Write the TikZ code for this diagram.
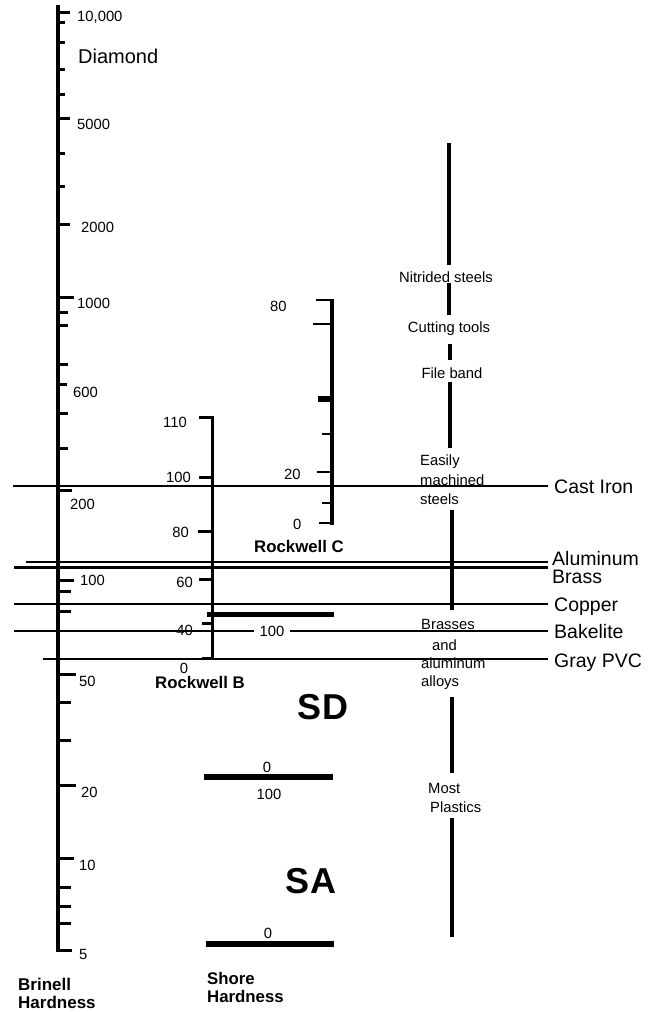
\documentclass[tikz,border=0pt]{standalone}
\usepackage{fontspec}
\setmainfont{Liberation Sans}
\begin{document}
\begin{tikzpicture}[x=1pt,y=-1pt,
  num/.style={font=\fontsize{14.8}{17}\selectfont, inner sep=0pt},
  matlbl/.style={font=\fontsize{19.5}{22}\selectfont, inner sep=0pt, anchor=base west},
  smtxt/.style={font=\fontsize{14.8}{17}\selectfont, inner sep=0pt, anchor=base west},
  boldlbl/.style={font=\bfseries\fontsize{16.8}{19}\selectfont, inner sep=0pt, anchor=base west},
  biglbl/.style={font=\bfseries\fontsize{36}{40}\selectfont, inner sep=0pt},
  baxis/.style={line width=4.5pt},
  btick/.style={line width=3pt},
  matline/.style={line width=2.5pt},
  rbline/.style={line width=3pt},
  rcaxis/.style={line width=4pt},
  rctick/.style={line width=2.7pt},
  colline/.style={line width=3.2pt},
  shorebar/.style={line width=6pt}]
\useasboundingbox (0,0) rectangle (653,1012);

% ---------------- Brinell scale ----------------
\coordinate (btop) at (58,5);
\coordinate (bbot) at (58,951.5);
\draw[baxis] (btop) -- (bbot);
\foreach \yy/\xx in {12/70,22/65,42/65,69/65,94/65,118/70,153/65,186/65,224/70,
                     297/74,312/68,325/68,364/68,384/67,413/68,448/68,490/72,
                     580/74,591/71,611/71,674/76,702/71,740/71,
                     785/76,858/74,887/71,906/71,923/71,950/72}
  \draw[btick] (56,\yy) -- (\xx,\yy);

\node[num,anchor=west] (b10000) at (77,17) {10,000};
\node[font=\fontsize{20}{22}\selectfont,inner sep=0pt,anchor=base west] (diam) at (78,63) {Diamond};
\node[num,anchor=west] (b5000) at (77,124) {5000};
\node[num,anchor=west] (b2000) at (81,227) {2000};
\node[num,anchor=west] (b1000) at (77,303) {1000};
\node[num,anchor=west] (b600) at (73,392) {600};
\node[num,anchor=west] (b200) at (70,504) {200};
\node[num,anchor=west] (b100) at (80,580) {100};
\node[num,anchor=west] (b50) at (79,681) {50};
\node[num,anchor=west] (b20) at (81,792) {20};
\node[num,anchor=west] (b10) at (79,865) {10};
\node[num,anchor=west] (b5) at (79,954) {5};
\node[boldlbl,font=\bfseries\fontsize{17}{19}\selectfont] (brinell) at (18,990) {Brinell};
\node[boldlbl,font=\bfseries\fontsize{17}{19}\selectfont] (brhard) at (18,1008) {Hardness};

% ---------------- Rockwell C ----------------
\draw[rcaxis] (332,298.5) -- (332,524.5);
\foreach \yy/\xx in {300/316,324/313,434/322,472/317,503/322,523/319}
  \draw[rctick] (\xx,\yy) -- (333,\yy);
\draw[line width=5.5pt] (318,399) -- (333,399);
\node[num,anchor=west] (rc80) at (270,306) {80};
\node[num,anchor=west] (rc20) at (284,474) {20};
\node[num,anchor=west] (rc0) at (293,524) {0};
\node[boldlbl] (rockc) at (254,552) {Rockwell C};

% ---------------- Rockwell B ----------------
\draw[rbline] (199,417.5) -- (212,417.5) -- (212,658) -- (202,658);
\foreach \yy/\xx in {477/199,531/198,579/199,623/202}
  \draw[rbline] (\xx,\yy) -- (212,\yy);
\draw[line width=5.5pt] (207,614.5) -- (334,614.5);
\node[num,anchor=east] (rb110) at (187,422) {110};
\node[num,anchor=east] (rb100) at (191,477) {100};
\node[num,anchor=east] (rb80) at (189,532) {80};
\node[num,anchor=east] (rb60) at (193,582) {60};
\node[num,anchor=east] (rb40) at (193,630) {40};
\node[num] (rb0) at (184,668) {0};
\node[boldlbl] (rockb) at (155,688) {Rockwell B};

% ---------------- Shore ----------------
\node[biglbl] (sd) at (323,707) {SD};
\draw[shorebar] (204,777) -- (333,777);
\node[num] (sd0) at (267,767) {0};
\node[num] (sd100) at (269,794) {100};
\node[biglbl] (sa) at (311,881) {SA};
\draw[shorebar] (206,944) -- (334,944);
\node[num] (sa0) at (268,933) {0};
\node[boldlbl] (shore) at (207,984) {Shore};
\node[boldlbl] (shhard) at (207,1002) {Hardness};

% ---------------- Right column ----------------
\node[smtxt,anchor=base] (nit) at (446,282) {Nitrided steels};
\node[smtxt,anchor=base] (cut) at (449,332) {Cutting tools};
\node[smtxt,anchor=base] (file) at (452,378) {File band};
\node[smtxt] (eas1) at (420,465) {Easily};
\node[smtxt] (eas2) at (420,485) {machined};
\node[smtxt] (eas3) at (420,504) {steels};
\node[smtxt] (bra1) at (421,629) {Brasses};
\node[smtxt] (bra2) at (432,650) {and};
\node[smtxt] (bra3) at (421,668) {aluminum};
\node[smtxt] (bra4) at (421,686) {alloys};
\node[smtxt] (mp1) at (428,793) {Most};
\node[smtxt] (mp2) at (430,812) {Plastics};

\draw[colline] (449,143) -- (449,265);
\draw[colline] (449,283) -- (449,315);
\draw[colline] (450,344) -- (450,360);
\draw[colline] (450,382) -- (450,448);
\draw[colline] (452,510) -- (452,610);
\draw[colline] (452,697) -- (452,773);
\draw[colline] (452,818) -- (452,937);

% ---------------- Material lines ----------------
\draw[matline] (13,486) -- (548,486);
\draw[matline] (26,562) -- (548,562);
\draw[matline] (14,567.5) -- (548,567.5);
\draw[matline] (14,604) -- (548,604);
\draw[matline] (14,631) -- (548,631);
\draw[matline] (43,659) -- (548,659);
\node[num,fill=white,inner xsep=6pt,inner ysep=1pt] (sh100) at (272,631) {100};

\node[matlbl] (castiron) at (554,493) {Cast Iron};
\node[matlbl] (alu) at (552,565) {Aluminum};
\node[matlbl] (brass) at (552,583) {Brass};
\node[matlbl] (copper) at (554,611) {Copper};
\node[matlbl] (bake) at (554,638) {Bakelite};
\node[matlbl] (pvc) at (554,667) {Gray PVC};
\end{tikzpicture}
\end{document}
